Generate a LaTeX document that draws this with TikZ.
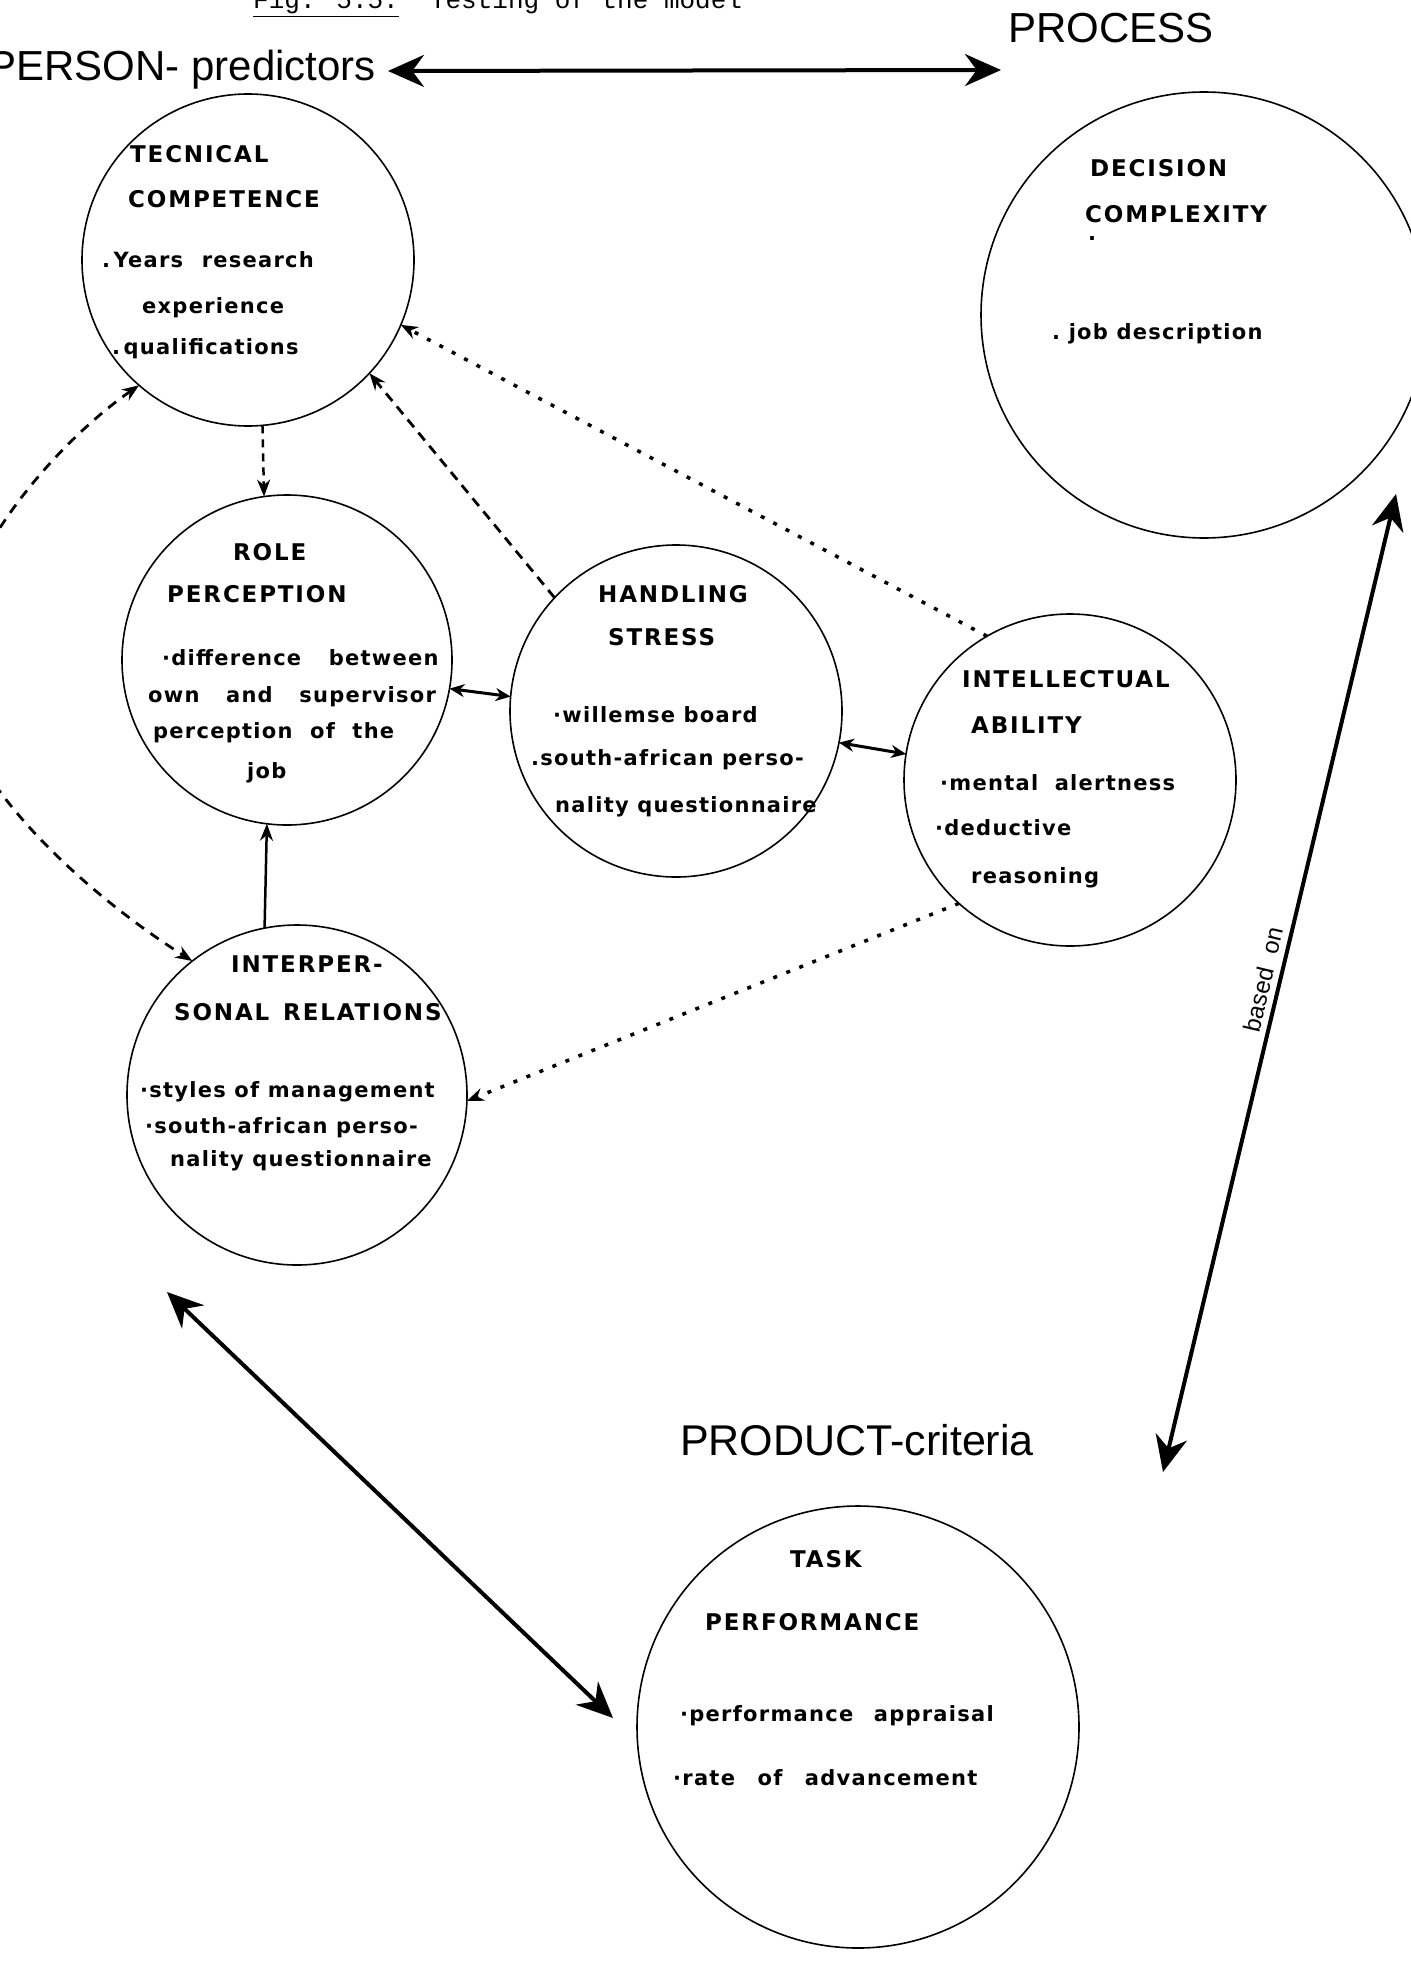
\documentclass[tikz,border=0pt]{standalone}
\usepackage{fontspec}
\setmainfont{Liberation Sans}
\newfontfamily\capfont{DejaVu Sans}[LetterSpace=8]
\newfontfamily\lowfont{DejaVu Sans}[LetterSpace=6]
\newfontfamily\monofont{Liberation Mono}
\usetikzlibrary{arrows.meta}
\begin{document}
\begin{tikzpicture}[x=1pt,y=-1pt,
  bubble/.style={circle, draw, line width=1.6pt, inner sep=0pt, outer sep=0pt},
  ctitle/.style={anchor=base west, inner sep=0pt, font=\capfont\bfseries\fontsize{23}{27}\selectfont},
  ctext/.style={anchor=base west, inner sep=0pt, font=\lowfont\bfseries\fontsize{21}{25}\selectfont},
  head/.style={inner sep=0pt, font=\fontsize{42}{48}\selectfont},
  smalltip/.style={-{Stealth[length=17pt,width=13pt]}},
  dashline/.style={line width=2.8pt, dash pattern=on 10pt off 7pt, smalltip},
  dotline/.style={line width=3.5pt, dash pattern=on 4pt off 10pt, smalltip},
  dbl/.style={line width=3pt, {Stealth[length=15pt,width=13pt]}-{Stealth[length=15pt,width=13pt]}},
  bigarrow/.style={line width=4pt, {Stealth[length=36pt,width=32pt]}-{Stealth[length=36pt,width=32pt]}}
]
\useasboundingbox (0,0) rectangle (1410,1961);
\fill[white] (0,0) rectangle (1410,1961);

% title
\node[anchor=base west, inner sep=0pt, font=\monofont\fontsize{26}{30}\selectfont] (title) at (253,9) {\underline{Fig. 5.5.}\ \ Testing of the model};

% headings
\node[head, anchor=base east] (person) at (376,81) {PERSON- predictors};
\node[head, anchor=base west] (process) at (1008,43) {PROCESS};
\node[head, anchor=base west, font=\fontsize{43}{48}\selectfont] (product) at (680,1455) {PRODUCT-criteria};

% circles
\node[bubble, minimum size=332pt] (tc) at (248,260) {};
\node[bubble, minimum size=446pt] (dc) at (1204,315) {};
\node[bubble, minimum size=330pt] (rp) at (287,660) {};
\node[bubble, minimum size=332pt] (hs) at (676,711) {};
\node[bubble, minimum size=332pt] (ia) at (1070,780) {};
\node[bubble, minimum size=340pt] (ir) at (297,1095) {};
\node[bubble, minimum size=442pt] (tp) at (858,1727) {};

% technical competence
\node[ctitle] (tc1) at (130,163) {TECNICAL};
\node[ctitle] (tc2) at (128,208) {COMPETENCE};
\node[ctext] (tc3) at (102,267) {.\,Years\hspace{10pt} research};
\node[ctext] (tc4) at (142,313) {experience};
\node[ctext] (tc5) at (112,354) {.\,qualifications};

% decision complexity
\node[ctitle] (dc1) at (1090,177) {DECISION};
\node[ctitle] (dc2) at (1085,223) {COMPLEXITY};
\node[ctext] (dc3) at (1088,241) {.};
\node[ctext] (dc4) at (1052,339) {.\ job description};

% role perception
\node[ctitle] (rp1) at (233,560) {ROLE};
\node[ctitle] (rp2) at (167,602) {PERCEPTION};
\node[ctext] (rp3) at (162,665) {·difference\hspace{19pt} between};
\node[ctext] (rp4) at (148,702) {own\hspace{18pt} and\hspace{18pt} supervisor};
\node[ctext] (rp5) at (153,738) {perception\hspace{9pt} of\hspace{9pt} the};
\node[ctext] (rp6) at (247,778) {job};

% handling stress
\node[ctitle] (hs1) at (598,602) {HANDLING};
\node[ctitle] (hs2) at (608,645) {STRESS};
\node[ctext] (hs3) at (553,722) {·willemse board};
\node[ctext] (hs4) at (531,765) {.south-african perso-};
\node[ctext] (hs5) at (555,812) {nality questionnaire};

% intellectual ability
\node[ctitle] (ia1) at (962,687) {INTELLECTUAL};
\node[ctitle] (ia2) at (971,733) {ABILITY};
\node[ctext] (ia3) at (940,790) {·mental\hspace{8pt} alertness};
\node[ctext] (ia4) at (935,835) {·deductive};
\node[ctext] (ia5) at (971,883) {reasoning};

% interpersonal relations
\node[ctitle] (ir1) at (231,972) {INTERPER-};
\node[ctitle] (ir2) at (174,1020) {SONAL\hspace{4pt} RELATIONS};
\node[ctext] (ir3) at (140,1097) {·styles of management};
\node[ctext] (ir4) at (145,1133) {·south-african perso-};
\node[ctext] (ir5) at (170,1166) {nality questionnaire};

% task performance
\node[ctitle] (tp1) at (790,1567) {TASK};
\node[ctitle] (tp2) at (705,1630) {PERFORMANCE};
\node[ctext] (tp3) at (680,1721) {·performance\hspace{12pt} appraisal};
\node[ctext] (tp4) at (673,1785) {·rate\hspace{14pt} of\hspace{14pt} advancement};

% free ends
\coordinate (pa) at (388,71);
\coordinate (pb) at (1001,70);
\coordinate (ta) at (167,1292);
\coordinate (tb) at (613,1718);
\coordinate (ba) at (1163,1472);
\coordinate (bb) at (1396,494);

% connectors
\draw[bigarrow] (pa) -- (pb);
\draw[bigarrow] (ta) -- (tb);
\draw[bigarrow] (ba) -- (bb) node[pos=0.5, sloped, above=6pt, font=\fontsize{24}{28}\selectfont, inner sep=0pt] (basedon) {based\hspace{8pt} on};

\draw[line width=2.5pt, dash pattern=on 8pt off 6pt, smalltip] (tc.-85) -- (rp.98);
\draw[line width=2.5pt, smalltip] (ir.101) -- (rp.-97);
\draw[dbl] (rp.-10) -- (hs.175);
\draw[dbl] (hs.-11) -- (ia.171);
\draw[dashline] (hs.137) -- (tc.-43);
\draw[dotline] (ia.120) -- (tc.-23);
\draw[dotline] (ia.228) -- (ir.-2);
\draw[line width=2.8pt, dash pattern=on 10pt off 8pt, {Stealth[length=17pt,width=13pt]}-{Stealth[length=17pt,width=13pt]}]
  (tc.229) .. controls (60,440) and (-50,560) .. (-50,670) .. controls (-50,770) and (80,890) .. (ir.128);
\end{tikzpicture}
\end{document}
